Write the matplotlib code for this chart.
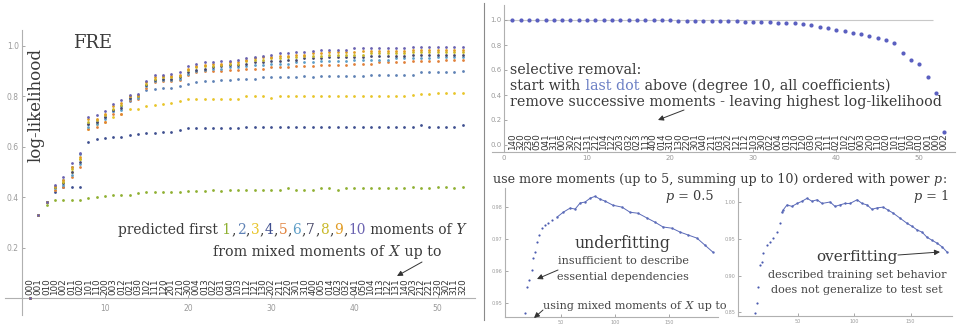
import matplotlib.pyplot as plt
from matplotlib.ticker import FormatStrFormatter

plt.rcParams['font.family'] = ['DejaVu Serif']

# ---------------- left panel: predicted moments of Y ----------------
moment_codes = [
    '000', '001', '010', '100', '002', '011', '020', '101', '110', '200',
    '003', '012', '021', '030', '102', '111', '120', '201', '210', '300',
    '004', '013', '022', '031', '040', '103', '112', '121', '130', '202',
    '211', '220', '301', '310', '400', '005', '014', '023', '032', '041',
    '050', '104', '113', '122', '131', '140', '203', '212', '221', '230',
    '302', '311', '320']
n_terms = list(range(1, len(moment_codes) + 1))

ll_m1 = [0.00, 0.33, 0.37, 0.39, 0.39, 0.39, 0.39, 0.395, 0.40, 0.405,
         0.41, 0.41, 0.41, 0.415, 0.42, 0.42, 0.42, 0.42, 0.42, 0.425,
         0.425, 0.425, 0.43, 0.425, 0.43, 0.43, 0.43, 0.43, 0.43, 0.43,
         0.43, 0.435, 0.43, 0.43, 0.43, 0.435, 0.435, 0.43, 0.435, 0.435,
         0.435, 0.435, 0.435, 0.435, 0.435, 0.435, 0.44, 0.435, 0.435, 0.44,
         0.44, 0.435, 0.44]
ll_m2 = [0.00, 0.33, 0.38, 0.44, 0.47, 0.52, 0.57, 0.69, 0.70, 0.72,
         0.74, 0.76, 0.78, 0.80, 0.825, 0.83, 0.835, 0.835, 0.84, 0.85,
         0.855, 0.86, 0.86, 0.865, 0.865, 0.87, 0.87, 0.87, 0.875, 0.875,
         0.875, 0.875, 0.875, 0.88, 0.875, 0.88, 0.88, 0.88, 0.88, 0.88,
         0.88, 0.885, 0.885, 0.885, 0.885, 0.885, 0.885, 0.895, 0.895, 0.895,
         0.895, 0.895, 0.90]
ll_m3 = [0.00, 0.33, 0.38, 0.43, 0.46, 0.50, 0.55, 0.67, 0.69, 0.70,
         0.72, 0.73, 0.75, 0.75, 0.76, 0.765, 0.77, 0.775, 0.78, 0.79,
         0.79, 0.79, 0.79, 0.79, 0.79, 0.79, 0.80, 0.80, 0.80, 0.795,
         0.80, 0.80, 0.80, 0.80, 0.80, 0.80, 0.80, 0.80, 0.80, 0.80,
         0.80, 0.80, 0.80, 0.80, 0.80, 0.80, 0.805, 0.81, 0.81, 0.815,
         0.815, 0.815, 0.815]
ll_m4 = [0.00, 0.33, 0.38, 0.42, 0.44, 0.44, 0.44, 0.62, 0.63, 0.635,
         0.64, 0.64, 0.645, 0.65, 0.655, 0.655, 0.66, 0.66, 0.665, 0.675,
         0.675, 0.675, 0.675, 0.675, 0.675, 0.675, 0.68, 0.68, 0.68, 0.68,
         0.68, 0.68, 0.68, 0.68, 0.68, 0.68, 0.68, 0.68, 0.68, 0.68,
         0.68, 0.68, 0.68, 0.68, 0.68, 0.68, 0.68, 0.685, 0.68, 0.68,
         0.68, 0.68, 0.685]
ll_m5 = [0.00, 0.33, 0.38, 0.43, 0.44, 0.48, 0.52, 0.67, 0.68, 0.70,
         0.73, 0.73, 0.785, 0.79, 0.835, 0.855, 0.86, 0.86, 0.865, 0.885,
         0.895, 0.90, 0.90, 0.90, 0.905, 0.905, 0.91, 0.91, 0.91, 0.915,
         0.915, 0.915, 0.92, 0.92, 0.92, 0.925, 0.925, 0.925, 0.925, 0.93,
         0.93, 0.93, 0.935, 0.935, 0.935, 0.935, 0.94, 0.94, 0.94, 0.94,
         0.945, 0.945, 0.945]
ll_m6 = [0.00, 0.33, 0.38, 0.435, 0.45, 0.49, 0.53, 0.68, 0.69, 0.71,
         0.74, 0.745, 0.79, 0.795, 0.84, 0.86, 0.865, 0.865, 0.87, 0.89,
         0.90, 0.905, 0.91, 0.91, 0.915, 0.915, 0.92, 0.925, 0.925, 0.93,
         0.93, 0.93, 0.935, 0.935, 0.935, 0.94, 0.94, 0.94, 0.94, 0.945,
         0.945, 0.945, 0.945, 0.945, 0.95, 0.95, 0.95, 0.95, 0.95, 0.955,
         0.955, 0.955, 0.955]
ll_m7 = [0.00, 0.33, 0.38, 0.44, 0.455, 0.50, 0.54, 0.69, 0.70, 0.72,
         0.745, 0.755, 0.795, 0.80, 0.845, 0.865, 0.87, 0.87, 0.875, 0.895,
         0.905, 0.91, 0.915, 0.92, 0.925, 0.925, 0.93, 0.935, 0.935, 0.94,
         0.94, 0.945, 0.945, 0.95, 0.95, 0.95, 0.955, 0.955, 0.955, 0.955,
         0.955, 0.96, 0.96, 0.96, 0.96, 0.96, 0.965, 0.965, 0.965, 0.965,
         0.965, 0.965, 0.965]
ll_m8 = [0.00, 0.33, 0.38, 0.44, 0.46, 0.51, 0.55, 0.70, 0.705, 0.725,
         0.75, 0.765, 0.80, 0.80, 0.85, 0.87, 0.875, 0.875, 0.88, 0.905,
         0.915, 0.92, 0.92, 0.925, 0.93, 0.93, 0.94, 0.945, 0.945, 0.95,
         0.95, 0.955, 0.955, 0.96, 0.96, 0.96, 0.965, 0.965, 0.965, 0.965,
         0.965, 0.97, 0.97, 0.97, 0.97, 0.97, 0.975, 0.975, 0.975, 0.975,
         0.975, 0.975, 0.975]
ll_m9 = [0.00, 0.33, 0.38, 0.445, 0.47, 0.52, 0.56, 0.71, 0.71, 0.73,
         0.76, 0.775, 0.80, 0.805, 0.855, 0.875, 0.88, 0.88, 0.885, 0.91,
         0.92, 0.925, 0.93, 0.93, 0.935, 0.935, 0.945, 0.95, 0.955, 0.955,
         0.96, 0.96, 0.965, 0.965, 0.97, 0.97, 0.975, 0.975, 0.975, 0.975,
         0.98, 0.98, 0.98, 0.98, 0.98, 0.98, 0.985, 0.985, 0.985, 0.985,
         0.985, 0.985, 0.985]
ll_m10 = [0.00, 0.33, 0.38, 0.45, 0.48, 0.535, 0.575, 0.72, 0.725, 0.74,
          0.77, 0.785, 0.805, 0.81, 0.86, 0.885, 0.885, 0.89, 0.895, 0.92,
          0.93, 0.935, 0.935, 0.94, 0.94, 0.945, 0.95, 0.955, 0.96, 0.965,
          0.97, 0.97, 0.975, 0.975, 0.98, 0.985, 0.985, 0.985, 0.985, 0.99,
          0.99, 0.99, 0.99, 0.99, 0.99, 0.99, 0.995, 0.995, 0.995, 0.995,
          0.995, 0.995, 0.995]
ll_series = [ll_m1, ll_m2, ll_m3, ll_m4, ll_m5, ll_m6, ll_m7, ll_m8, ll_m9, ll_m10]
moment_colors = ['#8fb032', '#5e81b5', '#e8c52a', '#3f4f8f', '#e0803a',
                 '#5d9ec7', '#4a4a6a', '#c9b92a', '#e19c24', '#6a62b0']

# ---------------- top right: selective removal ----------------
removal_codes = [
    '140', '320', '230', '050', '041', '311', '005', '302', '221', '131',
    '212', '104', '122', '203', '032', '023', '113', '400', '014', '310',
    '130', '220', '301', '040', '211', '031', '202', '121', '112', '103',
    '300', '022', '004', '013', '210', '120', '030', '201', '111', '021',
    '102', '012', '003', '200', '110', '020', '101', '011', '100', '010',
    '001', '000', '002']
removal_step = list(range(1, len(removal_codes) + 1))
removal_ll = [1.000, 1.000, 1.000, 1.000, 1.000, 1.000, 1.000, 1.000, 1.000, 1.000,
              1.000, 1.000, 1.000, 1.000, 1.000, 0.998, 0.998, 0.998, 0.997, 0.997,
              0.996, 0.995, 0.994, 0.993, 0.992, 0.991, 0.990, 0.989, 0.988, 0.987,
              0.985, 0.982, 0.980, 0.977, 0.975, 0.970, 0.958, 0.947, 0.933, 0.921,
              0.910, 0.897, 0.885, 0.871, 0.857, 0.840, 0.820, 0.740, 0.680, 0.645,
              0.540, 0.420, 0.100]

# ---------------- bottom right: ordered with power p ----------------
p05_rise_x = [16.7, 18.5, 20.4, 23.1, 24.1, 25.9, 27.8, 29.6, 32.4, 35.2, 38.0, 41.7]
p05_rise_y = [0.9469, 0.955, 0.9572, 0.9603, 0.9641, 0.9659, 0.9691, 0.9713,
              0.9734, 0.9744, 0.975, 0.9759]
p05_x = [46.3, 51.9, 58.3, 63.0, 67.6, 72.2, 76.9, 81.5, 86.1, 90.7,
         98.1, 106.5, 113.9, 121.3, 129.6, 137.0, 144.4, 152.8, 160.2, 167.6,
         175.9, 183.3, 190.7]
p05_y = [0.9769, 0.9784, 0.9797, 0.9794, 0.9813, 0.9816, 0.9828, 0.9834, 0.9825, 0.9819,
         0.9806, 0.9800, 0.9784, 0.9781, 0.9766, 0.9753, 0.9738, 0.9734, 0.9722, 0.9713,
         0.9703, 0.9681, 0.9659]
p1_rise_x = [12.4, 14.2, 15.0, 16.8, 18.6, 19.5, 23.0, 25.7, 28.3, 31.9, 34.5]
p1_rise_y = [0.8486, 0.8623, 0.884, 0.914, 0.918, 0.930, 0.941, 0.945, 0.951, 0.959, 0.971]
p1_x = [36.3, 37.2, 40.7, 45.1, 49.6, 54.0, 58.4, 62.8, 67.3, 71.7,
        78.8, 83.2, 87.6, 92.0, 96.5, 102.7, 107.1, 111.5, 115.9, 120.4,
        125.7, 130.1, 134.5, 140.7, 146.9, 151.3, 155.8, 160.2, 164.6, 169.0,
        173.5, 177.9, 182.3]
p1_y = [0.986, 0.989, 0.996, 0.994, 0.998, 1.001, 1.005, 1.001, 1.003, 0.998,
        1.000, 0.994, 0.996, 0.998, 0.998, 1.003, 0.998, 0.996, 0.990, 0.992,
        0.993, 0.989, 0.985, 0.978, 0.971, 0.967, 0.962, 0.959, 0.952, 0.948,
        0.944, 0.939, 0.932]

DARK = '#3a3a3a'
SOFT = '#454545'
AXIS = '#b0b0b0'
TICK = '#9a9a9a'
W, H = 961, 331

fig = plt.figure(figsize=(W / 100, H / 100), dpi=100)


def px_box(x0, y0, x1, y1):
    # pixel box measured from the top-left corner -> figure fraction rect
    return [x0 / W, 1 - y1 / H, (x1 - x0) / W, (y1 - y0) / H]


def style_axes(ax, size):
    for side in ('top', 'right'):
        ax.spines[side].set_visible(False)
    for side in ('left', 'bottom'):
        ax.spines[side].set_color(AXIS)
        ax.spines[side].set_linewidth(0.8)
    ax.tick_params(labelsize=size, colors=TICK, length=2.5, width=0.6,
                   direction='in', pad=2, labelfontfamily='DejaVu Sans')
    ax.patch.set_alpha(0)


# left panel
ax = fig.add_axes(px_box(5, 30, 475, 315))
style_axes(ax, 5.5)
ax.set_xlim(-2, 54.5)
ax.set_ylim(-0.067, 1.063)
ax.spines['left'].set_position(('data', 0))
ax.spines['bottom'].set_position(('data', 0))
ax.set_xticks([10, 20, 30, 40, 50])
ax.set_yticks([0.2, 0.4, 0.6, 0.8, 1.0])
ax.yaxis.set_major_formatter(FormatStrFormatter('%.1f'))
ax.tick_params(axis='x', pad=4)
for vals, col in zip(ll_series, moment_colors):
    ax.scatter(n_terms, vals, s=4, color=col, linewidths=0, zorder=3)
for x, code in zip(n_terms, moment_codes):
    ax.text(x, 0.012, code, rotation=90, ha='center', va='bottom', fontsize=6.3,
            family='DejaVu Sans', color='#333333')

# top right panel
ax2 = fig.add_axes(px_box(492, 5, 955, 152))
style_axes(ax2, 5)
ax2.set_xlim(-1.45, 54.3)
ax2.set_ylim(-0.056, 1.12)
ax2.spines['left'].set_position(('data', 0))
ax2.set_xticks([0, 10, 20, 30, 40, 50])
ax2.set_yticks([0.0, 0.2, 0.4, 0.6, 0.8, 1.0])
ax2.yaxis.set_major_formatter(FormatStrFormatter('%.1f'))
ax2.hlines(1.0, 0, 51.7, color='#c8c8c8', lw=0.8, zorder=1)
ax2.scatter(removal_step, removal_ll, s=9, color='#5a5fc0', linewidths=0, zorder=3)
for x, code in zip(removal_step, removal_codes):
    ax2.text(x, -0.04, code, rotation=90, ha='center', va='bottom', fontsize=6.3,
             family='DejaVu Sans', color='#333333')

# bottom right, p = 0.5
ax3 = fig.add_axes(px_box(505, 188, 718, 317))
style_axes(ax3, 3.5)
ax3.set_xlim(-2, 195.4)
ax3.set_ylim(0.9456, 0.986)
ax3.set_xticks([50, 100, 150])
ax3.set_yticks([0.95, 0.96, 0.97, 0.98])
ax3.yaxis.set_major_formatter(FormatStrFormatter('%.2f'))
ax3.scatter(p05_rise_x, p05_rise_y, s=2.5, color='#4b5bb0', linewidths=0)
ax3.plot(p05_x, p05_y, color='#5a6ab8', lw=0.7, marker='.', ms=1.5)

# bottom right, p = 1
ax4 = fig.add_axes(px_box(738, 188, 952, 316))
style_axes(ax4, 3.5)
ax4.set_xlim(-2.7, 186.7)
ax4.set_ylim(0.845, 1.019)
ax4.set_xticks([50, 100, 150])
ax4.set_yticks([0.85, 0.90, 0.95, 1.00])
ax4.yaxis.set_major_formatter(FormatStrFormatter('%.2f'))
ax4.scatter(p1_rise_x, p1_rise_y, s=2.5, color='#4b5bb0', linewidths=0)
ax4.plot(p1_x, p1_y, color='#5a6ab8', lw=0.7, marker='.', ms=1.5)

# annotation layer in pixel coordinates
ov = fig.add_axes([0, 0, 1, 1], zorder=10)
ov.set_xlim(0, W)
ov.set_ylim(H, 0)
ov.axis('off')
ov.patch.set_alpha(0)


def chain_text(x, y, pieces, size, gap=0.5):
    # pieces: (text, colour, style) drawn one after another on a line
    s, c, st = pieces[0]
    t = ov.text(x, y, s, color=c, style=st, fontsize=size, ha='left', va='bottom')
    for s, c, st in pieces[1:]:
        t = ov.annotate(s, xy=(1, 0), xycoords=t, xytext=(gap, 0),
                        textcoords='offset points', color=c, style=st,
                        fontsize=size, ha='left', va='bottom')
    return t


def arrow(tail, head):
    ov.annotate('', xy=head, xytext=tail,
                arrowprops=dict(arrowstyle='-|>', color='#333333', lw=0.7,
                                mutation_scale=8, shrinkA=0, shrinkB=0))


ov.plot([484, 484], [3, 320], color='#8a8a8a', lw=0.8)

ov.text(73, 48, 'FRE', fontsize=13, color=DARK, va='baseline')
ov.text(36, 105, 'log-likelihood', fontsize=12, color=DARK, rotation=90,
        ha='center', va='center')

legend_pieces = [('predicted first', DARK, 'normal')]
for i, col in enumerate(moment_colors):
    if i > 0:
        legend_pieces.append((',', DARK, 'normal'))
    legend_pieces.append(((' ' if i == 0 else '') + str(i + 1), col, 'normal'))
legend_pieces += [(' moments of', DARK, 'normal'), (' Y', DARK, 'italic')]
chain_text(118, 237, legend_pieces, 9.9, gap=0.3)
chain_text(213, 259, [('from mixed moments of', DARK, 'normal'), (' X', DARK, 'italic'),
                      (' up to', DARK, 'normal')], 10.2)
arrow((422, 262), (397, 276))

ov.text(510, 77, 'selective removal:', fontsize=10.3, color=DARK, va='bottom')
chain_text(510, 93, [('start with', DARK, 'normal'), (' last dot', '#6b7fc4', 'normal'),
                     (' above (degree 10, all coefficients)', DARK, 'normal')], 10.3)
ov.text(510, 109, 'remove successive moments - leaving highest log-likelihood',
        fontsize=10.3, color=DARK, va='bottom')
arrow((684, 110), (658, 120))

chain_text(493, 186, [('use more moments (up to 5, summing up to 10) ordered with power',
                       DARK, 'normal'), (' p', DARK, 'italic'), (':', DARK, 'normal')], 9.1)

chain_text(665, 203, [('p', DARK, 'italic'), (' = 0.5', DARK, 'normal')], 9.3)
chain_text(913, 203, [('p', DARK, 'italic'), (' = 1', DARK, 'normal')], 9.3)

ov.text(623, 244, 'underfitting', fontsize=11.3, color=DARK, ha='center', va='center')
ov.text(623, 261, 'insufficient to describe', fontsize=8.1, color=SOFT,
        ha='center', va='center')
ov.text(623, 277, 'essential dependencies', fontsize=8.1, color=SOFT,
        ha='center', va='center')
arrow((558, 270), (537, 279))
chain_text(543, 311, [('using mixed moments of', SOFT, 'normal'),
                      (' X', SOFT, 'italic'), (' up to', SOFT, 'normal')], 8)
arrow((543, 310), (534, 318))

ov.text(857, 257, 'overfitting', fontsize=11, color=DARK, ha='center', va='center')
arrow((898, 255), (940, 252))
ov.text(857, 275, 'described training set behavior', fontsize=8.1, color=SOFT,
        ha='center', va='center')
ov.text(857, 290, 'does not generalize to test set', fontsize=8.1, color=SOFT,
        ha='center', va='center')

fig.savefig('out.png', dpi=100)
